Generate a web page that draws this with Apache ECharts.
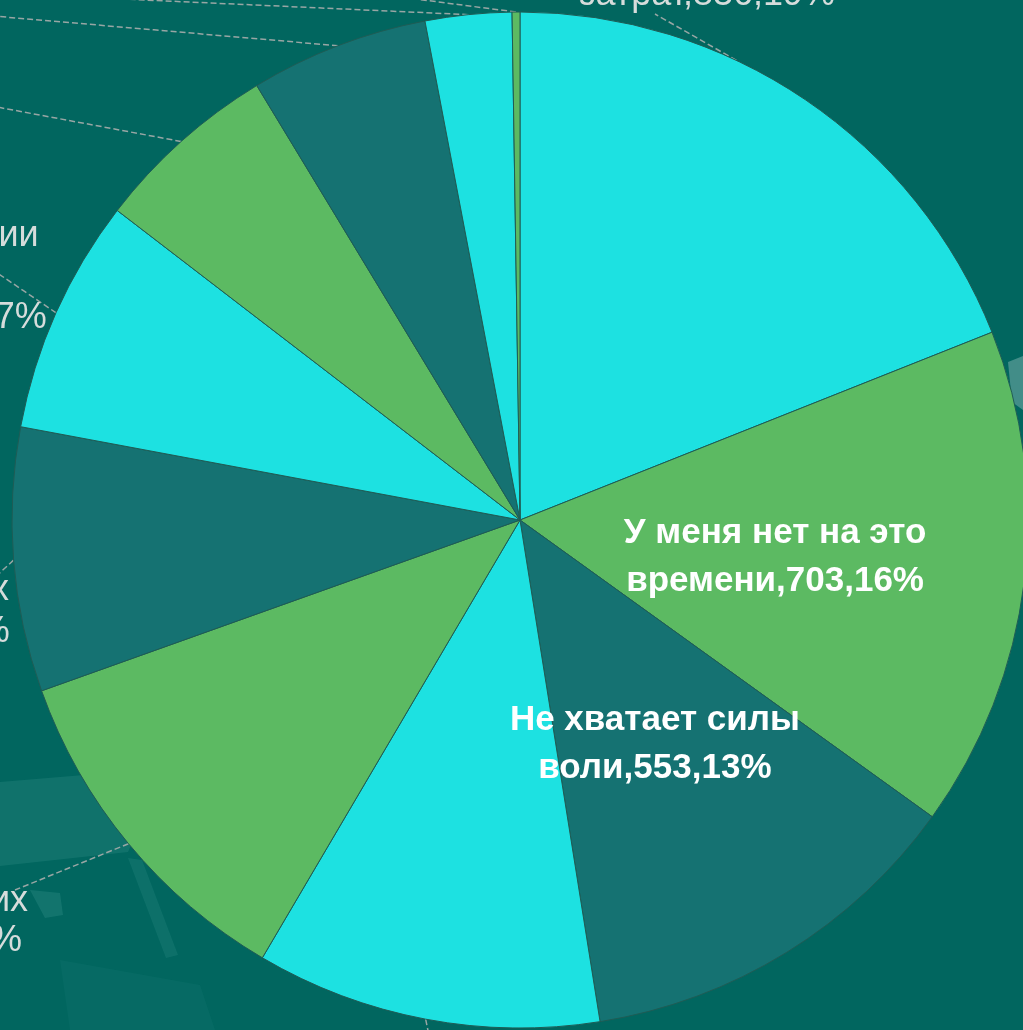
<!DOCTYPE html>
<html>
<head>
<meta charset="utf-8">
<title>Причины</title>
<script src="https://cdn.jsdelivr.net/npm/echarts@6/dist/echarts.min.js"></script>
<style>
  html, body { margin: 0; padding: 0; background: #01665f; overflow: hidden; }
  #chart { width: 1023px; height: 1030px; }
</style>
</head>
<body>
<div id="chart"></div>
<script>
// подписи секторов (по часовой стрелке от 12 часов)
var names = [
  "Требует финансовых\nзатрат",
  "У меня нет на это\nвремени",
  "Не хватает силы\nволи",
  "Лень",
  "Нет подходящих\nсекций",
  "Мало спортивных\nплощадок",
  "Нет доступной секции\nили клуба\nрядом с домом",
  "Не люблю спорт",
  "Плохое здоровье",
  "Стесняюсь",
  "Другое"
];
// количество ответов
var values = [836, 703, 553, 484, 488, 370, 330, 260, 250, 121, 11];

var colors = ["#1de1e1", "#5cba62", "#157272"];
var insideIdx = [1, 2];

var CX = 520, CY = 520, R = 508;

// где стоят внешние подписи (большая часть за краем картинки)
var outLabels = {
  0: { x: 707, y: -25, align: "center", lh: 41, end: [655, 14] },
  3: { x: 432, y: 1080, align: "center", lh: 41, end: [432, 1050] },
  4: { x: -110, y: 921, align: "center", lh: 40, end: [15, 890] },
  5: { x: -140, y: 611, align: "center", lh: 42, end: [-20, 591] },
  6: { x: -146, y: 277, align: "center", lh: 41, end: [-10, 268] },
  7: { x: -40, y: 98, align: "right", lh: 41, end: [-30, 102] },
  8: { x: -40, y: 12, align: "right", lh: 41, end: [-30, 14] },
  9: { x: 90, y: -40, align: "right", lh: 41, end: [100, -2] },
  10: { x: 390, y: -40, align: "right", lh: 41, end: [400, -3] }
};

var total = values.reduce(function (a, b) { return a + b; }, 0);

function arcMid(i) {
  var before = 0;
  for (var k = 0; k < i; k++) before += values[k];
  var a = (before + values[i] / 2) / total * 2 * Math.PI;
  return [CX + R * Math.sin(a), CY - R * Math.cos(a)];
}

// точка, где линия от подписи входит в круг
function entry(p0, p1) {
  var dx = p0[0] - p1[0], dy = p0[1] - p1[1];
  var fx = p1[0] - CX, fy = p1[1] - CY;
  var a = dx * dx + dy * dy, b = 2 * (fx * dx + fy * dy), c = fx * fx + fy * fy - R * R;
  var disc = b * b - 4 * a * c;
  if (disc < 0) return p0;
  var t = (-b - Math.sqrt(disc)) / (2 * a);
  if (t < 0 || t > 1) return p0;
  return [p1[0] + t * dx, p1[1] + t * dy];
}

var data = names.map(function (n, i) {
  var item = { name: n, value: values[i], itemStyle: { color: colors[i % 3] } };
  if (insideIdx.indexOf(i) >= 0) {
    item.label = { position: "inside", color: "#ffffff", fontSize: 35, fontWeight: "bold", lineHeight: 48 };
    item.labelLine = { show: false };
  } else {
    item.label = { lineHeight: outLabels[i].lh };
  }
  return item;
});

var chart = echarts.init(document.getElementById("chart"));
var option = {
  backgroundColor: "#01665f",
  animation: false,
  graphic: [
    // светлые пятна фона слайда
    { type: "polygon", z: 0, shape: { points: [[0, 782], [120, 772], [150, 800], [128, 852], [0, 866]] }, style: { fill: "rgba(120,200,195,0.13)" } },
    { type: "polygon", z: 0, shape: { points: [[30, 890], [60, 893], [63, 915], [45, 918]] }, style: { fill: "rgba(120,200,195,0.15)" } },
    { type: "polygon", z: 0, shape: { points: [[128, 858], [142, 860], [178, 955], [166, 958]] }, style: { fill: "rgba(120,200,195,0.11)" } },
    { type: "polygon", z: 0, shape: { points: [[60, 960], [200, 985], [215, 1030], [70, 1030]] }, style: { fill: "rgba(120,200,195,0.05)" } },
    { type: "polygon", z: 0, shape: { points: [[1008, 362], [1023, 356], [1023, 410], [1012, 402]] }, style: { fill: "rgba(190,215,215,0.35)" } }
  ],
  series: [{
    type: "pie",
    center: [CX, CY],
    radius: R,
    startAngle: 90,
    clockwise: true,
    avoidLabelOverlap: false,
    percentPrecision: 0,
    emphasis: { disabled: true },
    itemStyle: { borderColor: "#1f5c55", borderWidth: 1 },
    label: {
      formatter: "{b},{c},{d}%",
      color: "#d6dcdb",
      fontSize: 36,
      fontFamily: "Liberation Sans, Arial, sans-serif",
      align: "center"
    },
    labelLine: {
      show: true,
      length: 10,
      length2: 10,
      lineStyle: { color: "#98a6a4", width: 1.5, type: [6, 3] }
    },
    labelLayout: function (p) {
      if (insideIdx.indexOf(p.dataIndex) >= 0) return { dy: 6 };
      var o = outLabels[p.dataIndex];
      if (!o) return {};
      var p0 = arcMid(p.dataIndex);
      var start = entry(p0, o.end);
      return {
        x: o.x,
        y: o.y,
        align: o.align,
        verticalAlign: "middle",
        labelLinePoints: [start, [(start[0] + o.end[0]) / 2, (start[1] + o.end[1]) / 2], o.end]
      };
    },
    data: data
  }]
};
chart.setOption(option);
</script>
</body>
</html>
